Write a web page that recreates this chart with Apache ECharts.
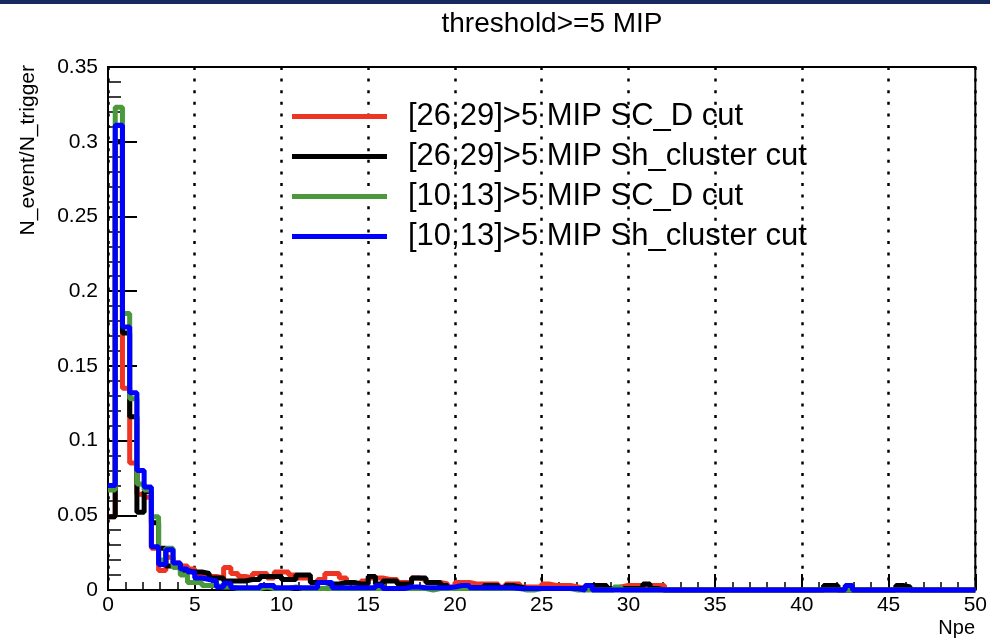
<!DOCTYPE html>
<html>
<head>
<meta charset="utf-8">
<script src="https://cdn.jsdelivr.net/npm/echarts@6/dist/echarts.min.js"></script>
<style>
  html, body { margin: 0; padding: 0; background: #fff; }
  #chart { width: 990px; height: 641px; }
</style>
</head>
<body>
<div id="chart"></div>
<script>
// Npe histograms: 120 bins over [0, 50]
const nBins = 120;
const xMin = 0;
const xMax = 50;

const seriesNames = [
  '[26,29]>5 MIP SC_D cut',
  '[26,29]>5 MIP Sh_cluster cut',
  '[10,13]>5 MIP SC_D cut',
  '[10,13]>5 MIP Sh_cluster cut'
];
const seriesColors = ['#ee3524', '#000000', '#4a9a3c', '#0000ff'];

const redVals = [
  0.049, 0.300, 0.135, 0.085, 0.064, 0.062, 0.028, 0.013, 0.022, 0.018,
  0.016, 0.014, 0.010, 0.009, 0.009, 0.008, 0.015, 0.011, 0.009, 0.008,
  0.011, 0.011, 0.008, 0.012, 0.012, 0.010, 0.008, 0.008, 0.005, 0.007,
  0.011, 0.011, 0.008, 0.005, 0.004, 0.006, 0.008, 0.008, 0.007, 0.007,
  0.005, 0.005, 0.008, 0.007, 0.005, 0.005, 0.004, 0.002, 0.005, 0.005,
  0.004, 0.004, 0.004, 0.004, 0.002, 0.004, 0.004, 0.002, 0.002, 0.002,
  0.004, 0.003, 0.003, 0.003, 0.002, 0.001, 0.001, 0.001, 0.001, 0.001,
  0.002, 0.003, 0.003, 0.003, 0.003, 0.003, 0.003, 0, 0, 0,
  0, 0, 0, 0, 0, 0, 0, 0, 0, 0,
  0, 0, 0, 0, 0, 0, 0, 0, 0, 0,
  0, 0, 0, 0, 0, 0, 0, 0, 0, 0,
  0, 0, 0, 0, 0, 0, 0, 0, 0, 0
];

const blackVals = [
  0.049, 0.300, 0.172, 0.116, 0.052, 0.066, 0.045, 0.028, 0.016, 0.017,
  0.013, 0.012, 0.012, 0.011, 0.008, 0.008, 0.006, 0.006, 0.006, 0.007,
  0.007, 0.009, 0.009, 0.009, 0.007, 0.007, 0.010, 0.010, 0.005, 0.005,
  0.004, 0.004, 0.005, 0.005, 0.004, 0.004, 0.009, 0.004, 0.006, 0.006,
  0.004, 0.004, 0.008, 0.008, 0.005, 0.005, 0.003, 0.0015, 0.0015, 0.0015,
  0.0015, 0.0015, 0.003, 0.003, 0.0015, 0.003, 0.002, 0.001, 0.001, 0.001,
  0.001, 0.001, 0.001, 0.001, 0.001, 0.001, 0.001, 0.003, 0.003, 0.001,
  0.001, 0.001, 0.001, 0.001, 0.004, 0.001, 0, 0, 0, 0,
  0, 0, 0, 0, 0, 0, 0, 0, 0, 0,
  0, 0, 0, 0, 0, 0, 0, 0, 0, 0.003,
  0.003, 0, 0, 0, 0, 0, 0, 0, 0, 0.003,
  0.002, 0, 0, 0, 0, 0, 0, 0, 0, 0
];

const greenVals = [
  0.067, 0.323, 0.185, 0.128, 0.071, 0.067, 0.049, 0.020, 0.028, 0.015,
  0.010, 0.005, 0.005, 0.003, 0.003, 0.002, 0.002, 0.001, 0.001, 0.001,
  0.001, 0.002, 0.001, 0.001, 0.001, 0.002, 0.001, 0.001, 0.001, 0.001,
  0.001, 0.001, 0.001, 0.001, 0.001, 0.001, 0.001, 0.001, 0.001, 0.001,
  0.001, 0.001, 0.001, 0.001, 0, 0.001, 0.001, 0.001, 0.001, 0.001,
  0.001, 0.001, 0.001, 0.001, 0.001, 0.001, 0.001, 0, 0, 0.001,
  0.001, 0.001, 0.001, 0.001, 0, 0, 0, 0, 0, 0,
  0.002, 0, 0, 0, 0, 0, 0, 0, 0, 0,
  0, 0, 0, 0, 0, 0, 0, 0, 0, 0,
  0, 0, 0, 0, 0, 0, 0, 0, 0, 0,
  0, 0, 0, 0, 0, 0, 0, 0, 0, 0,
  0, 0, 0, 0, 0, 0, 0, 0, 0, 0
];

const blueVals = [
  0.070, 0.311, 0.176, 0.132, 0.080, 0.069, 0.029, 0.017, 0.027, 0.018,
  0.014, 0.012, 0.008, 0.007, 0.006, 0.002, 0.0045, 0.0015, 0.0015, 0.0015,
  0.0015, 0.003, 0.003, 0.0015, 0.0015, 0.0015, 0.0015, 0.0015, 0.0015, 0.005,
  0.005, 0.0015, 0.0015, 0.0015, 0.0015, 0.0015, 0.0015, 0.003, 0.001, 0.001,
  0.001, 0.002, 0.002, 0.0015, 0.0015, 0.0015, 0.0015, 0.002, 0.003, 0.003,
  0.0015, 0.0015, 0.0015, 0.0015, 0.0015, 0.0015, 0.001, 0.001, 0.001, 0.001,
  0.001, 0.001, 0.001, 0.001, 0.001, 0, 0.003, 0, 0, 0,
  0, 0, 0, 0, 0, 0, 0, 0, 0, 0,
  0, 0, 0, 0, 0, 0, 0, 0, 0, 0,
  0, 0, 0, 0, 0, 0, 0, 0, 0, 0,
  0, 0, 0.003, 0, 0, 0, 0, 0, 0, 0,
  0, 0, 0, 0, 0, 0, 0, 0, 0, 0
];

const xTicks = [0, 5, 10, 15, 20, 25, 30, 35, 40, 45, 50];
const yTicks = [0, 0.05, 0.1, 0.15, 0.2, 0.25, 0.3, 0.35];

const FONT = '"Liberation Sans", Arial, Helvetica, sans-serif';

// Turn bin contents into step-outline points at the bin edges
function histPoints(vals) {
  const w = (xMax - xMin) / nBins;
  const pts = vals.map((v, k) => [xMin + k * w, v]);
  pts.push([xMax, vals[vals.length - 1]]);
  return pts;
}

const allVals = [redVals, blackVals, greenVals, blueVals];

const chart = echarts.init(document.getElementById('chart'), null, { renderer: 'canvas' });

chart.setOption({
  backgroundColor: '#ffffff',
  animation: false,
  title: {
    text: 'threshold>=5 MIP',
    left: 547,
    textAlign: 'center',
    top: 5,
    textStyle: { fontFamily: FONT, fontSize: 28, fontWeight: 'normal', color: '#000' }
  },
  legend: {
    orient: 'vertical',
    left: 292,
    top: 101,
    padding: 0,
    icon: 'rect',
    itemWidth: 95,
    itemHeight: 5,
    itemGap: 9,
    data: seriesNames,
    textStyle: {
      fontFamily: FONT, fontSize: 31, color: '#000', lineHeight: 31,
      padding: [0, 0, 0, 16]
    }
  },
  grid: {
    left: 108, top: 67, right: 13, bottom: 51,
    show: true, borderColor: '#000', borderWidth: 2, backgroundColor: 'transparent'
  },
  xAxis: {
    type: 'value',
    min: xTicks[0],
    max: xTicks[xTicks.length - 1],
    interval: xTicks[1] - xTicks[0],
    axisLine: { show: true, onZero: false, lineStyle: { color: '#000', width: 2 } },
    axisTick: { show: true, inside: true, length: 16, lineStyle: { color: '#000', width: 2 } },
    minorTick: { show: true, splitNumber: 5, length: 8, lineStyle: { color: '#000', width: 1.5 } },
    axisLabel: { fontFamily: FONT, fontSize: 21, color: '#000', margin: 5 },
    splitLine: { show: true, lineStyle: { color: '#000', width: 2.5, type: [3, 8.6] } },
    minorSplitLine: { show: false }
  },
  yAxis: {
    type: 'value',
    min: yTicks[0],
    max: yTicks[yTicks.length - 1],
    interval: yTicks[1] - yTicks[0],
    axisLine: { show: true, onZero: false, lineStyle: { color: '#000', width: 2 } },
    axisTick: { show: true, inside: true, length: 29, lineStyle: { color: '#000', width: 2 } },
    minorTick: { show: true, splitNumber: 5, length: 13, lineStyle: { color: '#000', width: 1.5 } },
    axisLabel: { fontFamily: FONT, fontSize: 21, color: '#000', margin: 10 },
    splitLine: { show: false }
  },
  graphic: [
    { type: 'rect', left: 0, top: 0, shape: { width: 990, height: 4 }, style: { fill: '#17295f' } },
    {
      type: 'text', x: 28, y: 65, rotation: Math.PI / 2,
      style: { text: 'N_event/N_trigger', font: '21px ' + FONT, fill: '#000', align: 'right', verticalAlign: 'middle' }
    },
    {
      type: 'text', x: 975, y: 628,
      style: { text: 'Npe', font: '20px ' + FONT, fill: '#000', align: 'right', verticalAlign: 'middle' }
    }
  ],
  series: seriesNames.map((name, i) => ({
    name: name,
    type: 'line',
    step: 'end',
    data: histPoints(allVals[i]),
    showSymbol: false,
    symbol: 'none',
    clip: false,
    color: seriesColors[i],
    lineStyle: { color: seriesColors[i], width: 5 },
    z: 2 + i
  }))
});
</script>
</body>
</html>
